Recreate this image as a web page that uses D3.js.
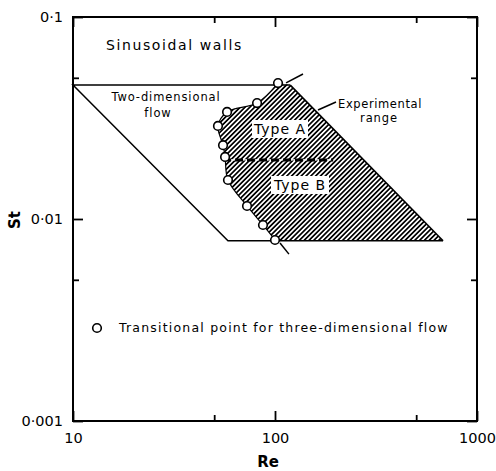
<!DOCTYPE html>
<html>
<head>
<meta charset="utf-8">
<script src="https://cdn.jsdelivr.net/npm/d3@7"></script>
<style>
  body { margin: 0; background: #fff; }
  text { font-family: "DejaVu Sans", sans-serif; fill: #000; }
</style>
</head>
<body>
<svg width="496" height="471"></svg>
<script>
// transitional points (Re, St)
var pointRe = [103.5, 81.5, 57.9, 52.2, 55.3, 56.6, 58.5, 72.7, 87.2, 100];
var pointSt = [0.0471, 0.0375, 0.0339, 0.0289, 0.0232, 0.0203, 0.0156, 0.0116, 0.00934, 0.00787];

// two-dimensional flow outline
var outlineRe = [119, 10, 58.5, 679];
var outlineSt = [0.046, 0.046, 0.0078, 0.0078];

// experimental range (hatched), right-hand edge
var rangeRe = [119, 679];
var rangeSt = [0.046, 0.0078];

// Type A / Type B boundary
var splitRe = [55.3, 194];
var splitSt = [0.0196, 0.0196];

// dashed continuation of the transition curve
var extTopRe = [113.4, 137.6], extTopSt = [0.0472, 0.0522];
var extBotRe = [105.9, 117.2], extBotSt = [0.0076, 0.0067];

var xMajor = [10, 100, 1000], xMinor = [50, 500];
var yMajor = [0.001, 0.01, 0.1], yMinor = [0.005, 0.05];
var yLabels = ['0·001', '0·01', '0·1'];

const svg = d3.select('svg');
const x = d3.scaleLog().domain([10, 1000]).range([73, 477]);
const y = d3.scaleLog().domain([0.001, 0.1]).range([421, 17]);

// hatch pattern
const defs = svg.append('defs');
defs.append('pattern')
  .attr('id', 'hatch')
  .attr('patternUnits', 'userSpaceOnUse')
  .attr('width', 3.4).attr('height', 3.4)
  .attr('patternTransform', 'rotate(45)')
  .append('rect')
  .attr('x', 0).attr('y', 0).attr('width', 1.7).attr('height', 3.4)
  .attr('fill', '#000');

const line = d3.line().x(d => x(d[0])).y(d => y(d[1]));

// hatched region: smooth curve up through the transitional points, then the right-hand corners
var leftEdge = d3.zip(pointRe, pointSt).reverse();
var edgeStr = d3.line().x(d => x(d[0])).y(d => y(d[1])).curve(d3.curveCatmullRom)(leftEdge);
var corners = d3.zip(rangeRe, rangeSt).map(d => 'L' + x(d[0]) + ',' + y(d[1])).join('');
svg.append('path')
  .attr('d', edgeStr + corners + 'Z')
  .attr('fill', 'url(#hatch)');
svg.append('path')
  .attr('d', edgeStr)
  .attr('fill', 'none')
  .attr('stroke', '#000')
  .attr('stroke-width', 1.2);

// two-dimensional outline and right edge of the range
svg.append('path')
  .attr('d', line(d3.zip(outlineRe, outlineSt)))
  .attr('fill', 'none')
  .attr('stroke', '#000')
  .attr('stroke-width', 1.5);
svg.append('path')
  .attr('d', line(d3.zip(rangeRe, rangeSt)))
  .attr('stroke', '#000')
  .attr('stroke-width', 1.6);

// Type A / B dashed separator
svg.append('path')
  .attr('d', line(d3.zip(splitRe, splitSt)))
  .attr('stroke', '#fff')
  .attr('stroke-width', 1.2);
svg.append('path')
  .attr('d', line(d3.zip(splitRe, splitSt)))
  .attr('stroke', '#000')
  .attr('stroke-width', 3)
  .attr('stroke-dasharray', '8,4');

[[extTopRe, extTopSt], [extBotRe, extBotSt]].forEach(e => {
  svg.append('path')
    .attr('d', line(d3.zip(e[0], e[1])))
    .attr('stroke', '#000')
    .attr('stroke-width', 1.5);
});

// white boxes with type labels
[['Type A', 280, 129, 56], ['Type B', 300, 185, 58]].forEach(t => {
  svg.append('rect')
    .attr('x', t[1] - t[3] / 2).attr('y', t[2] - 9)
    .attr('width', t[3]).attr('height', 18)
    .attr('fill', '#fff');
  svg.append('text')
    .attr('x', t[1]).attr('y', t[2])
    .attr('dy', '0.35em')
    .attr('text-anchor', 'middle')
    .attr('font-size', 14)
    .attr('letter-spacing', 1)
    .text(t[0]);
});

// transitional points
svg.append('g')
  .selectAll('circle')
  .data(d3.zip(pointRe, pointSt))
  .join('circle')
  .attr('cx', d => x(d[0]))
  .attr('cy', d => y(d[1]))
  .attr('r', 4.3)
  .attr('fill', '#fff')
  .attr('stroke', '#000')
  .attr('stroke-width', 1.6);

// axes: ticks point inwards
svg.append('g').attr('transform', 'translate(0,421)')
  .call(d3.axisBottom(x).tickValues(xMajor).tickFormat(d3.format('d')).tickSizeInner(-10).tickSizeOuter(0).tickPadding(12));
svg.append('g').attr('transform', 'translate(0,421)')
  .call(d3.axisBottom(x).tickValues(xMinor).tickFormat('').tickSizeInner(-6).tickSizeOuter(0));
svg.append('g').attr('transform', 'translate(0,17)')
  .call(d3.axisTop(x).tickValues(xMajor).tickFormat('').tickSizeInner(-10).tickSizeOuter(0));
svg.append('g').attr('transform', 'translate(0,17)')
  .call(d3.axisTop(x).tickValues(xMinor).tickFormat('').tickSizeInner(-6).tickSizeOuter(0));
svg.append('g').attr('transform', 'translate(73,0)')
  .call(d3.axisLeft(y).tickValues(yMajor).tickFormat((d, i) => yLabels[i]).tickSizeInner(-10).tickSizeOuter(0).tickPadding(10));
svg.append('g').attr('transform', 'translate(73,0)')
  .call(d3.axisLeft(y).tickValues(yMinor).tickFormat('').tickSizeInner(-6).tickSizeOuter(0));
svg.append('g').attr('transform', 'translate(477,0)')
  .call(d3.axisRight(y).tickValues(yMajor).tickFormat('').tickSizeInner(-10).tickSizeOuter(0));
svg.append('g').attr('transform', 'translate(477,0)')
  .call(d3.axisRight(y).tickValues(yMinor).tickFormat('').tickSizeInner(-6).tickSizeOuter(0));

svg.selectAll('.domain').remove();
svg.selectAll('.tick line').attr('stroke', '#000').attr('stroke-width', 1.8);
svg.selectAll('.tick text')
  .attr('font-family', '"DejaVu Sans", sans-serif')
  .attr('font-size', 14.5)
  .attr('fill', '#000');

// frame
svg.append('rect')
  .attr('x', 73).attr('y', 17).attr('width', 404).attr('height', 404)
  .attr('fill', 'none').attr('stroke', '#000').attr('stroke-width', 2);

// axis titles
svg.append('text')
  .attr('x', 268).attr('y', 462).attr('dy', '0.35em')
  .attr('text-anchor', 'middle').attr('font-size', 15).attr('font-weight', 'bold')
  .text('Re');
svg.append('text')
  .attr('transform', 'translate(15,220) rotate(-90)')
  .attr('dy', '0.35em')
  .attr('text-anchor', 'middle').attr('font-size', 15).attr('font-weight', 'bold')
  .text('St');

// annotations
svg.append('text')
  .attr('x', 106).attr('y', 45).attr('dy', '0.35em')
  .attr('font-size', 14).attr('letter-spacing', 1.6)
  .text('Sinusoidal walls');
svg.append('text')
  .attr('x', 166).attr('y', 97).attr('dy', '0.35em')
  .attr('text-anchor', 'middle').attr('font-size', 11.5).attr('letter-spacing', 0.9)
  .text('Two-dimensional');
svg.append('text')
  .attr('x', 158).attr('y', 113).attr('dy', '0.35em')
  .attr('text-anchor', 'middle').attr('font-size', 11.5).attr('letter-spacing', 0.9)
  .text('flow');
svg.append('text')
  .attr('x', 380).attr('y', 104).attr('dy', '0.35em')
  .attr('text-anchor', 'middle').attr('font-size', 11.5).attr('letter-spacing', 0.6)
  .text('Experimental');
svg.append('text')
  .attr('x', 379).attr('y', 118).attr('dy', '0.35em')
  .attr('text-anchor', 'middle').attr('font-size', 11.5).attr('letter-spacing', 0.9)
  .text('range');
svg.append('line')
  .attr('x1', 336).attr('y1', 102).attr('x2', 318).attr('y2', 110)
  .attr('stroke', '#000').attr('stroke-width', 1.5);

// legend
svg.append('circle')
  .attr('cx', 97).attr('cy', 328).attr('r', 4.3)
  .attr('fill', '#fff').attr('stroke', '#000').attr('stroke-width', 1.6);
svg.append('text')
  .attr('x', 119).attr('y', 328).attr('dy', '0.35em')
  .attr('font-size', 12.5).attr('letter-spacing', 1.2)
  .text('Transitional point for three-dimensional flow');
</script>
</body>
</html>
